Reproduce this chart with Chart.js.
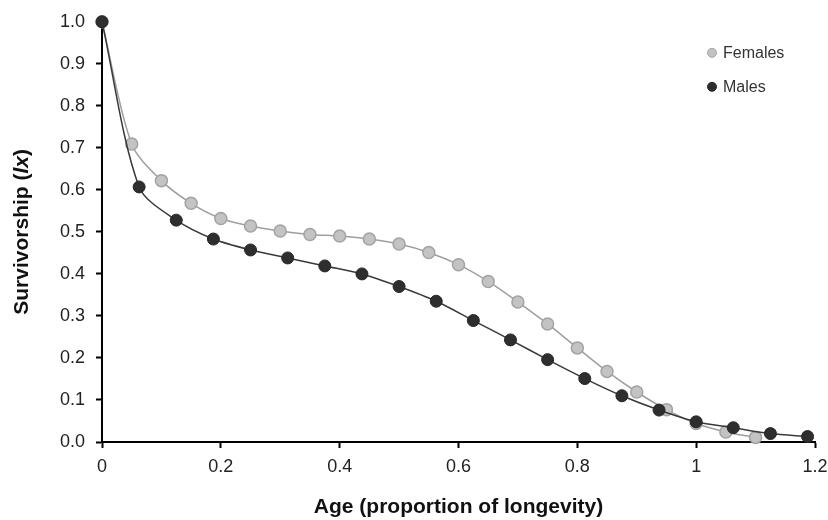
<!DOCTYPE html>
<html>
<head>
<meta charset="utf-8">
<script src="https://cdn.jsdelivr.net/npm/chart.js@4.4.1/dist/chart.umd.min.js"></script>
<style>
  html, body { margin: 0; padding: 0; background: #fff; }
  #wrap { width: 828px; height: 520px; }
</style>
</head>
<body>
<div id="wrap"><canvas id="survChart" width="828" height="520"></canvas></div>
<script>
// age as proportion of longevity
var femaleAge = [0, 0.05, 0.1, 0.15, 0.2, 0.25, 0.3, 0.35, 0.4, 0.45, 0.5, 0.55, 0.6, 0.65, 0.7, 0.75, 0.8, 0.85, 0.9, 0.95, 1.0, 1.05, 1.1];
var femaleLx = [1.0, 0.709, 0.622, 0.568, 0.532, 0.514, 0.502, 0.494, 0.490, 0.483, 0.471, 0.451, 0.422, 0.382, 0.333, 0.281, 0.224, 0.168, 0.119, 0.077, 0.044, 0.024, 0.011];

var maleAge = [0, 0.0625, 0.125, 0.1875, 0.25, 0.3125, 0.375, 0.4375, 0.5, 0.5625, 0.625, 0.6875, 0.75, 0.8125, 0.875, 0.9375, 1.0, 1.0625, 1.125, 1.1875];
var maleLx = [1.0, 0.607, 0.528, 0.483, 0.457, 0.438, 0.419, 0.400, 0.370, 0.335, 0.289, 0.243, 0.196, 0.151, 0.110, 0.076, 0.048, 0.034, 0.020, 0.013];

var seriesNames = ["Females", "Males"];
var yTickLabels = ["0.0", "0.1", "0.2", "0.3", "0.4", "0.5", "0.6", "0.7", "0.8", "0.9", "1.0"];

var FONT = '"Liberation Sans", Arial, sans-serif';

var toPoints = function (xs, ys) {
    var pts = [];
    for (var i = 0; i < xs.length; i++) {
        pts.push({ x: xs[i], y: ys[i] });
    }
    return pts;
};

// legend drawn inside plot, upper right, like the original
var insideLegend = {
    id: 'insideLegend',
    afterDraw: function (chart) {
        var ctx = chart.ctx;
        var area = chart.chartArea;
        var items = [
            { name: seriesNames[0], fill: '#c3c3c3', stroke: '#a3a3a3', dy: 31 },
            { name: seriesNames[1], fill: '#2e2e2e', stroke: '#262626', dy: 65 }
        ];
        ctx.save();
        ctx.font = '16px ' + FONT;
        ctx.textBaseline = 'middle';
        items.forEach(function (it) {
            var cx = area.right - 103, cy = area.top + it.dy;
            ctx.beginPath();
            ctx.arc(cx, cy, 4.5, 0, Math.PI * 2);
            ctx.fillStyle = it.fill;
            ctx.fill();
            ctx.lineWidth = 1;
            ctx.strokeStyle = it.stroke;
            ctx.stroke();
            ctx.fillStyle = '#333';
            ctx.fillText(it.name, cx + 11, cy + 1);
        });
        ctx.restore();
    }
};

// y title with italic lx
var yTitle = {
    id: 'yTitle',
    afterDraw: function (chart) {
        var ctx = chart.ctx;
        var area = chart.chartArea;
        var parts = [
            { t: 'Survivorship (', f: 'bold 21px ' + FONT },
            { t: 'lx', f: 'italic bold 21px ' + FONT },
            { t: ')', f: 'bold 21px ' + FONT }
        ];
        ctx.save();
        var total = 0;
        parts.forEach(function (p) { ctx.font = p.f; p.w = ctx.measureText(p.t).width; total += p.w; });
        ctx.translate(22, (area.top + area.bottom) / 2);
        ctx.rotate(-Math.PI / 2);
        ctx.textBaseline = 'middle';
        ctx.fillStyle = '#111';
        var x = -total / 2;
        parts.forEach(function (p) {
            ctx.font = p.f;
            ctx.fillText(p.t, x, 0);
            x += p.w;
        });
        ctx.restore();
    }
};

var ctxS = document.getElementById('survChart').getContext('2d');
var survChart = new Chart(ctxS, {
    type: 'line',
    data: {
        datasets: [{
            label: seriesNames[1],
            data: toPoints(maleAge, maleLx),
            borderColor: '#3a3a3a',
            backgroundColor: '#2e2e2e',
            pointBackgroundColor: '#2e2e2e',
            pointBorderColor: '#262626',
            pointBorderWidth: 1,
            pointRadius: 6,
            borderWidth: 1.5,
            tension: 0.3,
            clip: false
        },
        {
            label: seriesNames[0],
            data: toPoints(femaleAge, femaleLx),
            borderColor: '#9e9e9e',
            backgroundColor: '#c3c3c3',
            pointBackgroundColor: '#c3c3c3',
            pointBorderColor: '#a3a3a3',
            pointBorderWidth: 1.5,
            pointRadius: 6,
            borderWidth: 1.5,
            tension: 0.3,
            clip: false
        }]
    },
    options: {
        responsive: false,
        animation: false,
        layout: { padding: { top: 20, right: 0, left: 0, bottom: 0 } },
        plugins: {
            legend: { display: false },
            tooltip: { enabled: false }
        },
        scales: {
            x: {
                type: 'linear',
                min: 0,
                max: 1.2,
                afterFit: function (s) { s.height = 78; s.paddingRight = 13; s.paddingLeft = 0; },
                border: { color: '#000', width: 2 },
                grid: { drawOnChartArea: false, drawTicks: true, tickLength: 6, tickColor: '#000', tickWidth: 2 },
                ticks: {
                    stepSize: 0.2,
                    padding: 8,
                    color: '#222',
                    font: { family: FONT, size: 18 },
                    callback: function (v) { return String(Math.round(v * 10) / 10); }
                },
                title: {
                    display: true,
                    text: 'Age (proportion of longevity)',
                    color: '#111',
                    padding: { top: 0, bottom: 0 },
                    font: { family: FONT, size: 21, weight: 'bold' }
                }
            },
            y: {
                min: 0,
                max: 1,
                afterFit: function (s) { s.width = 102; },
                border: { color: '#000', width: 2 },
                grid: { drawOnChartArea: false, drawTicks: true, tickLength: 6, tickColor: '#000', tickWidth: 2 },
                ticks: {
                    stepSize: 0.1,
                    padding: 11,
                    color: '#222',
                    font: { family: FONT, size: 18 },
                    callback: function (v) { return yTickLabels[Math.round(v * 10)]; }
                },
                title: { display: false }
            }
        }
    },
    plugins: [insideLegend, yTitle]
});
</script>
</body>
</html>
